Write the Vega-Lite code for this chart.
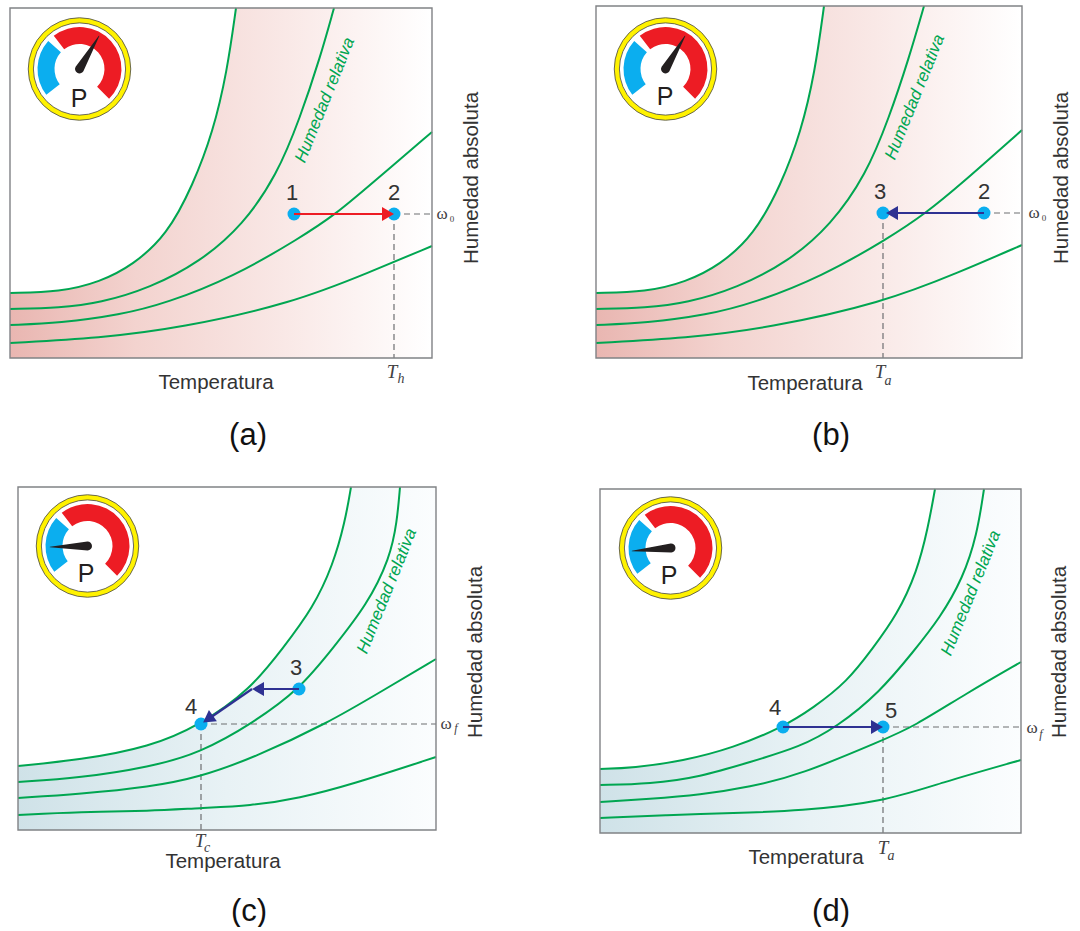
{
"$schema":"https://vega.github.io/schema/vega-lite/v6.json",
"padding":{"left":6,"top":2,"right":0,"bottom":0},
"background":"white",
"config":{"view":{"stroke":null}},
"data":{"values":[
{"panel":"a","kind":"marco","x":0,"x2":422,"y":0,"y2":350},
{"panel":"b","kind":"marco","x":0,"x2":426,"y":0,"y2":352},
{"panel":"c","kind":"marco","x":8,"x2":426,"y":9,"y2":352},
{"panel":"d","kind":"marco","x":4,"x2":425,"y":6,"y2":350},

{"panel":"a","kind":"HR1","x":0,"y":65,"y2":350},{"panel":"a","kind":"HR1","x":50,"y":66,"y2":350},{"panel":"a","kind":"HR1","x":90,"y":76,"y2":350},{"panel":"a","kind":"HR1","x":123,"y":93,"y2":350},{"panel":"a","kind":"HR1","x":157,"y":123,"y2":350},{"panel":"a","kind":"HR1","x":183,"y":173,"y2":350},{"panel":"a","kind":"HR1","x":203,"y":226,"y2":350},{"panel":"a","kind":"HR1","x":217,"y":286,"y2":350},{"panel":"a","kind":"HR1","x":226,"y":350,"y2":350},
{"panel":"a","kind":"HR2","x":0,"y":49},{"panel":"a","kind":"HR2","x":50,"y":50},{"panel":"a","kind":"HR2","x":90,"y":55},{"panel":"a","kind":"HR2","x":140,"y":70},{"panel":"a","kind":"HR2","x":190,"y":96},{"panel":"a","kind":"HR2","x":233,"y":133},{"panel":"a","kind":"HR2","x":267,"y":183},{"panel":"a","kind":"HR2","x":290,"y":240},{"panel":"a","kind":"HR2","x":310,"y":300},{"panel":"a","kind":"HR2","x":324,"y":350},
{"panel":"a","kind":"HR3","x":0,"y":33},{"panel":"a","kind":"HR3","x":50,"y":35},{"panel":"a","kind":"HR3","x":110,"y":43},{"panel":"a","kind":"HR3","x":157,"y":55},{"panel":"a","kind":"HR3","x":223,"y":81},{"panel":"a","kind":"HR3","x":290,"y":120},{"panel":"a","kind":"HR3","x":326,"y":144},{"panel":"a","kind":"HR3","x":360,"y":173},{"panel":"a","kind":"HR3","x":422,"y":226},
{"panel":"a","kind":"HR4","x":0,"y":15},{"panel":"a","kind":"HR4","x":90,"y":20},{"panel":"a","kind":"HR4","x":170,"y":30},{"panel":"a","kind":"HR4","x":283,"y":55},{"panel":"a","kind":"HR4","x":360,"y":86},{"panel":"a","kind":"HR4","x":422,"y":112},

{"panel":"b","kind":"HR1","x":0,"y":65,"y2":352},{"panel":"b","kind":"HR1","x":50,"y":66,"y2":352},{"panel":"b","kind":"HR1","x":90,"y":76,"y2":352},{"panel":"b","kind":"HR1","x":124,"y":93,"y2":352},{"panel":"b","kind":"HR1","x":158,"y":123,"y2":352},{"panel":"b","kind":"HR1","x":185,"y":173,"y2":352},{"panel":"b","kind":"HR1","x":205,"y":226,"y2":352},{"panel":"b","kind":"HR1","x":219,"y":286,"y2":352},{"panel":"b","kind":"HR1","x":228,"y":352,"y2":352},
{"panel":"b","kind":"HR2","x":0,"y":49},{"panel":"b","kind":"HR2","x":50,"y":50},{"panel":"b","kind":"HR2","x":91,"y":55},{"panel":"b","kind":"HR2","x":141,"y":70},{"panel":"b","kind":"HR2","x":192,"y":96},{"panel":"b","kind":"HR2","x":235,"y":133},{"panel":"b","kind":"HR2","x":270,"y":183},{"panel":"b","kind":"HR2","x":293,"y":240},{"panel":"b","kind":"HR2","x":313,"y":300},{"panel":"b","kind":"HR2","x":328,"y":352},
{"panel":"b","kind":"HR3","x":0,"y":33},{"panel":"b","kind":"HR3","x":50,"y":35},{"panel":"b","kind":"HR3","x":111,"y":43},{"panel":"b","kind":"HR3","x":158,"y":55},{"panel":"b","kind":"HR3","x":225,"y":81},{"panel":"b","kind":"HR3","x":293,"y":120},{"panel":"b","kind":"HR3","x":330,"y":145},{"panel":"b","kind":"HR3","x":364,"y":173},{"panel":"b","kind":"HR3","x":426,"y":228},
{"panel":"b","kind":"HR4","x":0,"y":15},{"panel":"b","kind":"HR4","x":91,"y":20},{"panel":"b","kind":"HR4","x":172,"y":30},{"panel":"b","kind":"HR4","x":286,"y":55},{"panel":"b","kind":"HR4","x":364,"y":86},{"panel":"b","kind":"HR4","x":426,"y":113},

{"panel":"c","kind":"HR1","x":8,"y":73,"y2":352},{"panel":"c","kind":"HR1","x":70,"y":79,"y2":352},{"panel":"c","kind":"HR1","x":140,"y":92,"y2":352},{"panel":"c","kind":"HR1","x":190,"y":114,"y2":352},{"panel":"c","kind":"HR1","x":240,"y":149,"y2":352},{"panel":"c","kind":"HR1","x":273,"y":191,"y2":352},{"panel":"c","kind":"HR1","x":303,"y":231,"y2":352},{"panel":"c","kind":"HR1","x":323,"y":274,"y2":352},{"panel":"c","kind":"HR1","x":335,"y":317,"y2":352},{"panel":"c","kind":"HR1","x":341,"y":352,"y2":352},
{"panel":"c","kind":"HR2","x":8,"y":57},{"panel":"c","kind":"HR2","x":70,"y":61},{"panel":"c","kind":"HR2","x":140,"y":72},{"panel":"c","kind":"HR2","x":190,"y":86},{"panel":"c","kind":"HR2","x":243,"y":116},{"panel":"c","kind":"HR2","x":290,"y":150},{"panel":"c","kind":"HR2","x":323,"y":191},{"panel":"c","kind":"HR2","x":357,"y":234},{"panel":"c","kind":"HR2","x":380,"y":281},{"panel":"c","kind":"HR2","x":387,"y":317},{"panel":"c","kind":"HR2","x":390,"y":352},
{"panel":"c","kind":"HR3","x":8,"y":41},{"panel":"c","kind":"HR3","x":70,"y":45},{"panel":"c","kind":"HR3","x":140,"y":52},{"panel":"c","kind":"HR3","x":190,"y":62},{"panel":"c","kind":"HR3","x":243,"y":81},{"panel":"c","kind":"HR3","x":318,"y":116},{"panel":"c","kind":"HR3","x":372,"y":148},{"panel":"c","kind":"HR3","x":426,"y":180},
{"panel":"c","kind":"HR4","x":8,"y":24},{"panel":"c","kind":"HR4","x":70,"y":27},{"panel":"c","kind":"HR4","x":140,"y":28},{"panel":"c","kind":"HR4","x":190,"y":31},{"panel":"c","kind":"HR4","x":240,"y":33},{"panel":"c","kind":"HR4","x":290,"y":41},{"panel":"c","kind":"HR4","x":340,"y":54},{"panel":"c","kind":"HR4","x":426,"y":82},

{"panel":"d","kind":"HR1","x":4,"y":70,"y2":350},{"panel":"d","kind":"HR1","x":37,"y":71,"y2":350},{"panel":"d","kind":"HR1","x":87,"y":78,"y2":350},{"panel":"d","kind":"HR1","x":137,"y":91,"y2":350},{"panel":"d","kind":"HR1","x":187,"y":112,"y2":350},{"panel":"d","kind":"HR1","x":217,"y":131,"y2":350},{"panel":"d","kind":"HR1","x":251,"y":157,"y2":350},{"panel":"d","kind":"HR1","x":277,"y":191,"y2":350},{"panel":"d","kind":"HR1","x":301,"y":224,"y2":350},{"panel":"d","kind":"HR1","x":321,"y":267,"y2":350},{"panel":"d","kind":"HR1","x":332,"y":311,"y2":350},{"panel":"d","kind":"HR1","x":339,"y":350,"y2":350},
{"panel":"d","kind":"HR2","x":4,"y":54},{"panel":"d","kind":"HR2","x":54,"y":55},{"panel":"d","kind":"HR2","x":104,"y":62},{"panel":"d","kind":"HR2","x":154,"y":77},{"panel":"d","kind":"HR2","x":204,"y":92},{"panel":"d","kind":"HR2","x":241,"y":112},{"panel":"d","kind":"HR2","x":284,"y":147},{"panel":"d","kind":"HR2","x":317,"y":187},{"panel":"d","kind":"HR2","x":344,"y":221},{"panel":"d","kind":"HR2","x":367,"y":261},{"panel":"d","kind":"HR2","x":381,"y":304},{"panel":"d","kind":"HR2","x":388,"y":350},
{"panel":"d","kind":"HR3","x":4,"y":37},{"panel":"d","kind":"HR3","x":54,"y":40},{"panel":"d","kind":"HR3","x":104,"y":44},{"panel":"d","kind":"HR3","x":154,"y":52},{"panel":"d","kind":"HR3","x":204,"y":64},{"panel":"d","kind":"HR3","x":287,"y":99},{"panel":"d","kind":"HR3","x":317,"y":112},{"panel":"d","kind":"HR3","x":371,"y":146},{"panel":"d","kind":"HR3","x":425,"y":177},
{"panel":"d","kind":"HR4","x":4,"y":21},{"panel":"d","kind":"HR4","x":71,"y":24},{"panel":"d","kind":"HR4","x":137,"y":26},{"panel":"d","kind":"HR4","x":204,"y":28},{"panel":"d","kind":"HR4","x":287,"y":37},{"panel":"d","kind":"HR4","x":344,"y":56},{"panel":"d","kind":"HR4","x":425,"y":79},

{"panel":"a","kind":"guia","x":384,"x2":422,"y":144,"y2":144},{"panel":"a","kind":"guia","x":384,"x2":384,"y":144,"y2":0},
{"panel":"b","kind":"guia","x":388,"x2":426,"y":145,"y2":145},{"panel":"b","kind":"guia","x":287,"x2":287,"y":145,"y2":0},
{"panel":"c","kind":"guia","x":191,"x2":426,"y":115,"y2":115},{"panel":"c","kind":"guia","x":191,"x2":191,"y":115,"y2":9},
{"panel":"d","kind":"guia","x":287,"x2":425,"y":112,"y2":112},{"panel":"d","kind":"guia","x":287,"x2":287,"y":112,"y2":6},

{"panel":"a","kind":"punto","x":284,"y":144},{"panel":"a","kind":"punto","x":384,"y":144},
{"panel":"b","kind":"punto","x":287,"y":145},{"panel":"b","kind":"punto","x":388,"y":145},
{"panel":"c","kind":"punto","x":289,"y":150},{"panel":"c","kind":"punto","x":191,"y":115},
{"panel":"d","kind":"punto","x":187,"y":112},{"panel":"d","kind":"punto","x":287,"y":112},

{"panel":"a","kind":"flecha_roja","x":284,"x2":375,"y":144,"y2":144},
{"panel":"b","kind":"flecha_azul","x":388,"x2":299,"y":145,"y2":145},
{"panel":"c","kind":"flecha_azul","x":289,"x2":248,"y":150,"y2":150},
{"panel":"c","kind":"flecha_azul","x":242,"x2":197,"y":150,"y2":119},
{"panel":"d","kind":"flecha_azul","x":187,"x2":279,"y":112,"y2":112},

{"panel":"a","kind":"punta_roja","x":378,"y":144},
{"panel":"d","kind":"punta_der","x":281,"y":112},
{"panel":"b","kind":"punta_izq","x":296,"y":145},
{"panel":"c","kind":"punta_izq","x":248,"y":150},
{"panel":"c","kind":"punta_diag","x":198,"y":120},

{"panel":"a","kind":"numero","x":282,"y":165,"texto":"1"},{"panel":"a","kind":"numero","x":384,"y":165,"texto":"2"},
{"panel":"b","kind":"numero","x":284,"y":166,"texto":"3"},{"panel":"b","kind":"numero","x":388,"y":166,"texto":"2"},
{"panel":"c","kind":"numero","x":286,"y":171,"texto":"3"},{"panel":"c","kind":"numero","x":181,"y":132,"texto":"4"},
{"panel":"d","kind":"numero","x":179,"y":131,"texto":"4"},{"panel":"d","kind":"numero","x":295,"y":128,"texto":"5"},

{"panel":"a","kind":"relativa","x":315,"y":258,"texto":"Humedad relativa"},
{"panel":"b","kind":"relativa","x":319,"y":261,"texto":"Humedad relativa"},
{"panel":"c","kind":"relativa","x":377,"y":248,"texto":"Humedad relativa"},
{"panel":"d","kind":"relativa","x":375,"y":246,"texto":"Humedad relativa"},

{"panel":"a","kind":"eje_x","x":206,"y":-25,"texto":"Temperatura"},
{"panel":"b","kind":"eje_x","x":209,"y":-26,"texto":"Temperatura"},
{"panel":"c","kind":"eje_x","x":213,"y":-23,"texto":"Temperatura"},
{"panel":"d","kind":"eje_x","x":210,"y":-19,"texto":"Temperatura"},

{"panel":"a","kind":"eje_y","x":462,"y":180,"texto":"Humedad absoluta"},
{"panel":"b","kind":"eje_y","x":466,"y":180,"texto":"Humedad absoluta"},
{"panel":"c","kind":"eje_y","x":466,"y":187,"texto":"Humedad absoluta"},
{"panel":"d","kind":"eje_y","x":464,"y":187,"texto":"Humedad absoluta"},

{"panel":"a","kind":"rotulo","x":238,"y":-78,"texto":"(a)"},
{"panel":"b","kind":"rotulo","x":235,"y":-78,"texto":"(b)"},
{"panel":"c","kind":"rotulo","x":239,"y":-73,"texto":"(c)"},
{"panel":"d","kind":"rotulo","x":235,"y":-73,"texto":"(d)"},

{"panel":"a","kind":"T","x":382,"y":-14,"texto":"T"},{"panel":"a","kind":"Tsub","x":391,"y":-21,"texto":"h"},
{"panel":"b","kind":"T","x":284,"y":-14,"texto":"T"},{"panel":"b","kind":"Tsub","x":292,"y":-23,"texto":"a"},
{"panel":"c","kind":"T","x":190,"y":-2,"texto":"T"},{"panel":"c","kind":"Tsub","x":197,"y":-9,"texto":"c"},
{"panel":"d","kind":"T","x":287,"y":-9,"texto":"T"},{"panel":"d","kind":"Tsub","x":295,"y":-17,"texto":"a"},

{"panel":"a","kind":"omega","x":432,"y":144,"texto":"ω"},{"panel":"a","kind":"omega0","x":442,"y":139,"texto":"0"},
{"panel":"b","kind":"omega","x":438,"y":145,"texto":"ω"},{"panel":"b","kind":"omega0","x":448,"y":140,"texto":"0"},
{"panel":"c","kind":"omega","x":436,"y":115,"texto":"ω"},{"panel":"c","kind":"omegaf","x":446,"y":111,"texto":"f"},
{"panel":"d","kind":"omega","x":436,"y":111,"texto":"ω"},{"panel":"d","kind":"omegaf","x":445,"y":105,"texto":"f"},

{"panel":"a","kind":"manometro","x":69.5,"y":289},
{"panel":"b","kind":"manometro","x":69.5,"y":289},
{"panel":"c","kind":"manometro","x":77.5,"y":293},
{"panel":"d","kind":"manometro","x":74.5,"y":291},

{"panel":"a","kind":"aguja","x":69.5,"y":289,"w":1},{"panel":"a","kind":"aguja","x":89,"y":322,"w":0},
{"panel":"b","kind":"aguja","x":69.5,"y":289,"w":1},{"panel":"b","kind":"aguja","x":89,"y":322,"w":0},
{"panel":"c","kind":"aguja","x":77.5,"y":293,"w":1},{"panel":"c","kind":"aguja","x":40,"y":292,"w":0},
{"panel":"d","kind":"aguja","x":75,"y":291,"w":1},{"panel":"d","kind":"aguja","x":36,"y":288,"w":0},

{"panel":"a","kind":"P","x":69,"y":259,"texto":"P"},
{"panel":"b","kind":"P","x":69,"y":261,"texto":"P"},
{"panel":"c","kind":"P","x":76,"y":265,"texto":"P"},
{"panel":"d","kind":"P","x":73,"y":263,"texto":"P"}
]},
"columns":2,
"facet":{"field":"panel","type":"nominal","title":null,"header":{"title":null,"labels":false,"labelExpr":"''","labelFontSize":0,"labelPadding":0,"titlePadding":0}},
"spacing":{"row":129,"column":160},
"bounds":"flush",
"spec":{
"width":426,"height":352,
"encoding":{
"x":{"field":"x","type":"quantitative","axis":null,"scale":{"domain":[0,426],"nice":false,"zero":false}},
"y":{"field":"y","type":"quantitative","axis":null,"scale":{"domain":[0,352],"nice":false,"zero":false}}
},
"layer":[
{"transform":[{"filter":"datum.kind==='marco' && (datum.panel==='a'||datum.panel==='b')"}],
 "mark":{"type":"rect","fill":{"gradient":"linear","x1":0,"y1":0,"x2":1,"y2":0,"stops":[{"offset":0,"color":"#e9b6b1"},{"offset":0.3,"color":"#f3d3cf"},{"offset":0.65,"color":"#f9e8e6"},{"offset":1,"color":"#ffffff"}]}},
 "encoding":{"x2":{"field":"x2"},"y2":{"field":"y2"}}},
{"transform":[{"filter":"datum.kind==='marco' && (datum.panel==='c'||datum.panel==='d')"}],
 "mark":{"type":"rect","fill":{"gradient":"linear","x1":0,"y1":0,"x2":1,"y2":0,"stops":[{"offset":0,"color":"#cfe2e8"},{"offset":0.5,"color":"#e8f2f5"},{"offset":1,"color":"#fbfdfe"}]}},
 "encoding":{"x2":{"field":"x2"},"y2":{"field":"y2"}}},
{"transform":[{"filter":"datum.kind==='HR1'"}],
 "mark":{"type":"area","fill":"white","interpolate":"basis"},
 "encoding":{"y2":{"field":"y2"}}},
{"transform":[{"filter":"datum.kind==='guia'"}],
 "mark":{"type":"rule","stroke":"#6d6e71","strokeWidth":1.2,"strokeDash":[6,4]},
 "encoding":{"x2":{"field":"x2"},"y2":{"field":"y2"}}},
{"transform":[{"filter":"indexof(datum.kind,'HR')===0"}],
 "mark":{"type":"line","stroke":"#00a651","strokeWidth":2,"interpolate":"basis"},
 "encoding":{"detail":{"field":"kind"}}},
{"transform":[{"filter":"datum.kind==='marco'"}],
 "mark":{"type":"rect","fill":null,"fillOpacity":0,"stroke":"#808285","strokeWidth":1.4},
 "encoding":{"x2":{"field":"x2"},"y2":{"field":"y2"}}},
{"transform":[{"filter":"datum.kind==='punto'"}],
 "mark":{"type":"point","shape":"circle","filled":true,"fill":"#0baeef","opacity":1,"size":169}},
{"transform":[{"filter":"datum.kind==='flecha_roja'"}],
 "mark":{"type":"rule","stroke":"#ed1c24","strokeWidth":2},
 "encoding":{"x2":{"field":"x2"},"y2":{"field":"y2"}}},
{"transform":[{"filter":"datum.kind==='flecha_azul'"}],
 "mark":{"type":"rule","stroke":"#2e3192","strokeWidth":2.2},
 "encoding":{"x2":{"field":"x2"},"y2":{"field":"y2"}}},
{"transform":[{"filter":"datum.kind==='punta_roja'"}],
 "mark":{"type":"point","shape":"triangle-right","filled":true,"fill":"#ed1c24","opacity":1,"size":190}},
{"transform":[{"filter":"datum.kind==='punta_der'"}],
 "mark":{"type":"point","shape":"triangle-right","filled":true,"fill":"#2e3192","opacity":1,"size":190}},
{"transform":[{"filter":"datum.kind==='punta_izq'"}],
 "mark":{"type":"point","shape":"triangle-left","filled":true,"fill":"#2e3192","opacity":1,"size":190}},
{"transform":[{"filter":"datum.kind==='punta_diag'"}],
 "mark":{"type":"point","shape":"triangle-up","filled":true,"fill":"#2e3192","opacity":1,"size":190,"angle":235}},
{"transform":[{"filter":"datum.kind==='numero'"}],
 "mark":{"type":"text","font":"Liberation Sans","fontSize":22,"fill":"#333333","align":"center","baseline":"middle"},
 "encoding":{"text":{"field":"texto"}}},
{"transform":[{"filter":"datum.kind==='relativa'"}],
 "mark":{"type":"text","font":"Liberation Sans","fontSize":17,"fontStyle":"italic","fill":"#00a651","align":"center","baseline":"middle","angle":292},
 "encoding":{"text":{"field":"texto"}}},
{"transform":[{"filter":"datum.kind==='eje_x'"}],
 "mark":{"type":"text","font":"Liberation Sans","fontSize":20.5,"fill":"#333333","align":"center","baseline":"middle"},
 "encoding":{"text":{"field":"texto"}}},
{"transform":[{"filter":"datum.kind==='eje_y'"}],
 "mark":{"type":"text","font":"Liberation Sans","fontSize":20.5,"fill":"#333333","align":"center","baseline":"middle","angle":270},
 "encoding":{"text":{"field":"texto"}}},
{"transform":[{"filter":"datum.kind==='rotulo'"}],
 "mark":{"type":"text","font":"Liberation Sans","fontSize":31,"fill":"#111111","align":"center","baseline":"middle"},
 "encoding":{"text":{"field":"texto"}}},
{"transform":[{"filter":"datum.kind==='T'"}],
 "mark":{"type":"text","font":"Liberation Serif","fontStyle":"italic","fontSize":19,"fill":"#414042","align":"center","baseline":"middle"},
 "encoding":{"text":{"field":"texto"}}},
{"transform":[{"filter":"datum.kind==='Tsub'"}],
 "mark":{"type":"text","font":"Liberation Serif","fontStyle":"italic","fontSize":14,"fill":"#414042","align":"center","baseline":"middle"},
 "encoding":{"text":{"field":"texto"}}},
{"transform":[{"filter":"datum.kind==='omega'"}],
 "mark":{"type":"text","font":"Liberation Serif","fontSize":17,"fill":"#414042","align":"center","baseline":"middle"},
 "encoding":{"text":{"field":"texto"}}},
{"transform":[{"filter":"datum.kind==='omega0'"}],
 "mark":{"type":"text","font":"Liberation Serif","fontSize":9,"fill":"#414042","align":"center","baseline":"middle"},
 "encoding":{"text":{"field":"texto"}}},
{"transform":[{"filter":"datum.kind==='omegaf'"}],
 "mark":{"type":"text","font":"Liberation Serif","fontStyle":"italic","fontSize":12,"fill":"#414042","align":"center","baseline":"middle"},
 "encoding":{"text":{"field":"texto"}}},
{"transform":[{"filter":"datum.kind==='manometro'"}],
 "mark":{"type":"point","shape":"circle","filled":true,"fill":"#fff200","stroke":"#444444","strokeWidth":0.8,"opacity":1,"size":10500}},
{"transform":[{"filter":"datum.kind==='manometro'"}],
 "mark":{"type":"point","shape":"circle","filled":true,"fill":"#ffffff","stroke":"#444444","strokeWidth":0.8,"opacity":1,"size":8500}},
{"transform":[{"filter":"datum.kind==='manometro'"}],
 "mark":{"type":"arc","innerRadius":25,"outerRadius":42,"theta":-0.66,"theta2":2.36,"fill":"#ed1c24"}},
{"transform":[{"filter":"datum.kind==='manometro'"}],
 "mark":{"type":"arc","innerRadius":25,"outerRadius":42,"theta":-2.23,"theta2":-0.84,"fill":"#0baeef"}},
{"transform":[{"filter":"datum.kind==='aguja'"}],
 "mark":{"type":"trail","fill":"#231f20","color":"#231f20"},
 "encoding":{"size":{"field":"w","type":"quantitative","legend":null,"scale":{"domain":[0,1],"range":[0.5,9]}}}},
{"transform":[{"filter":"datum.kind==='P'"}],
 "mark":{"type":"text","font":"Liberation Sans","fontSize":25,"fill":"#231f20","align":"center","baseline":"middle"},
 "encoding":{"text":{"field":"texto"}}}
]
}
}
